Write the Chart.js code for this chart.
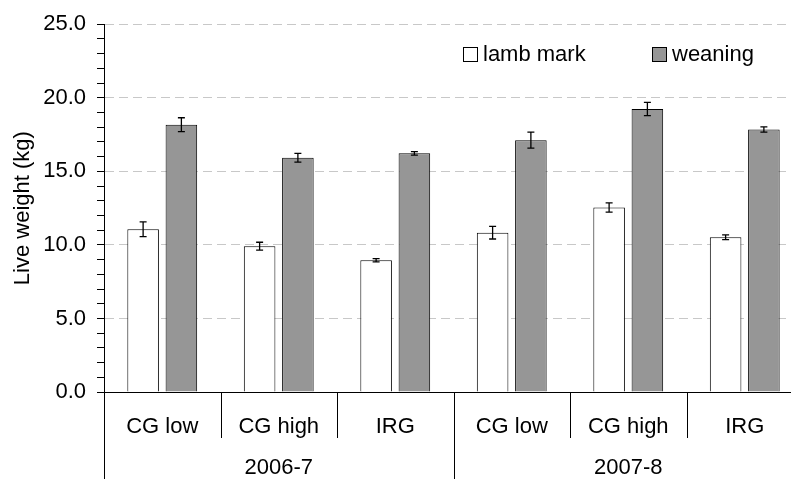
<!DOCTYPE html>
<html>
<head>
<meta charset="utf-8">
<script src="https://cdn.jsdelivr.net/npm/chart.js@4/dist/chart.umd.min.js"></script>
<style>
  html, body { margin: 0; padding: 0; background: #fff; overflow: hidden; }
  #wrap { width: 810px; height: 479px; }
</style>
</head>
<body>
<div id="wrap"><canvas id="chart" width="810" height="479"></canvas></div>
<script>
// categories and groups
var categories = ['CG low', 'CG high', 'IRG', 'CG low', 'CG high', 'IRG'];
var groups = ['2006-7', '2007-8'];
var groupSize = [3, 3];

// live weight (kg) and error bars
var lambMark = [11.06, 9.91, 8.96, 10.83, 12.54, 10.52];
var lambMarkErr = [0.50, 0.27, 0.11, 0.43, 0.32, 0.16];
var weaning = [18.17, 15.92, 16.22, 17.12, 19.24, 17.84];
var weaningErr = [0.47, 0.30, 0.12, 0.54, 0.45, 0.18];

var yTicks = [0, 5, 10, 15, 20, 25];

Chart.defaults.font.family = "'Liberation Sans', Arial, sans-serif";
Chart.defaults.color = '#000';

// error bars on each bar, using the y scale
var errorBars = {
    id: 'errorBars',
    afterDatasetsDraw: function(chart) {
        var ctx = chart.ctx;
        var y = chart.scales.y;
        ctx.save();
        ctx.strokeStyle = '#000';
        ctx.lineWidth = 1.3;
        chart.data.datasets.forEach(function(ds, di) {
            var meta = chart.getDatasetMeta(di);
            meta.data.forEach(function(bar, i) {
                var v = ds.data[i], e = ds.errors[i];
                var top = y.getPixelForValue(v + e);
                var bot = y.getPixelForValue(v - e);
                ctx.beginPath();
                ctx.moveTo(bar.x, top); ctx.lineTo(bar.x, bot);
                ctx.moveTo(bar.x - 3.5, top); ctx.lineTo(bar.x + 3.5, top);
                ctx.moveTo(bar.x - 3.5, bot); ctx.lineTo(bar.x + 3.5, bot);
                ctx.stroke();
            });
        });
        ctx.restore();
    }
};

// two-level category axis: separators and group labels
var groupAxis = {
    id: 'groupAxis',
    afterDraw: function(chart) {
        var ctx = chart.ctx;
        var x = chart.scales.x;
        var half = (x.getPixelForValue(1) - x.getPixelForValue(0)) / 2;
        var base = x.top;
        ctx.save();
        ctx.strokeStyle = '#000';
        ctx.lineWidth = 1;
        var bounds = [0];
        var n = 0;
        groupSize.forEach(function(s) { n += s; bounds.push(n); });
        for (var i = 0; i <= categories.length; i++) {
            var px = Math.round(x.getPixelForValue(i) - half) + 0.5;
            var long = bounds.indexOf(i) >= 0;
            ctx.beginPath();
            ctx.moveTo(px, base);
            ctx.lineTo(px, long ? chart.height : base + 46);
            ctx.stroke();
        }
        ctx.font = "22px 'Liberation Sans', Arial, sans-serif";
        ctx.fillStyle = '#000';
        ctx.textAlign = 'center';
        ctx.textBaseline = 'middle';
        var start = 0;
        groups.forEach(function(g, gi) {
            var a = x.getPixelForValue(start) - half;
            var b = x.getPixelForValue(start + groupSize[gi] - 1) + half;
            ctx.fillText(g, (a + b) / 2, base + 76);
            start += groupSize[gi];
        });
        ctx.restore();
    }
};

// legend drawn inside the plot
var insideLegend = {
    id: 'insideLegend',
    afterDraw: function(chart) {
        var ctx = chart.ctx;
        var items = [
            { x: 463, ds: chart.data.datasets[0] },
            { x: 652, ds: chart.data.datasets[1] }
        ];
        ctx.save();
        ctx.font = "22px 'Liberation Sans', Arial, sans-serif";
        ctx.textBaseline = 'middle';
        ctx.textAlign = 'left';
        items.forEach(function(it) {
            ctx.fillStyle = it.ds.backgroundColor;
            ctx.fillRect(it.x, 47, 15, 15);
            ctx.strokeStyle = '#000';
            ctx.lineWidth = 1;
            ctx.strokeRect(it.x + 0.5, 47.5, 14, 14);
            ctx.fillStyle = '#000';
            ctx.fillText(it.ds.label, it.x + 20, 55);
        });
        ctx.restore();
    }
};

new Chart(document.getElementById('chart'), {
    type: 'bar',
    data: {
        labels: categories,
        datasets: [{
            label: 'lamb mark',
            data: lambMark,
            errors: lambMarkErr,
            backgroundColor: '#ffffff',
            borderColor: '#000',
            borderWidth: 1,
            categoryPercentage: 0.657,
            barPercentage: 0.825
        }, {
            label: 'weaning',
            data: weaning,
            errors: weaningErr,
            backgroundColor: '#969696',
            borderColor: '#000',
            borderWidth: 1,
            categoryPercentage: 0.657,
            barPercentage: 0.825
        }]
    },
    options: {
        responsive: false,
        animation: false,
        layout: { padding: { left: 0, top: 21, right: 7, bottom: 0 } },
        plugins: {
            legend: { display: false },
            tooltip: { enabled: false }
        },
        scales: {
            x: {
                grid: { display: false },
                border: { display: true, color: '#000', width: 1 },
                ticks: { font: { size: 22 }, color: '#000', padding: 14, maxRotation: 0 },
                afterFit: function(s) { s.height = 87; }
            },
            y: {
                min: 0,
                max: 25,
                afterBuildTicks: function(s) {
                    var t = [];
                    for (var v = 0; v <= 25; v++) t.push({ value: v });
                    s.ticks = t;
                },
                grid: {
                    color: function(c) {
                        var v = c.tick ? c.tick.value : 0;
                        return (v !== 0 && yTicks.indexOf(v) >= 0) ? '#c8c8c8' : 'rgba(0,0,0,0)';
                    },
                    tickColor: '#000',
                    tickBorderDash: [],
                    tickLength: 7,
                    lineWidth: 1
                },
                border: { display: true, color: '#000', width: 1, dash: [9, 5] },
                ticks: {
                    autoSkip: false,
                    font: { size: 22 },
                    color: '#000',
                    padding: 11,
                    callback: function(v) { return yTicks.indexOf(v) >= 0 ? v.toFixed(1) : ''; }
                },
                title: {
                    display: true,
                    text: 'Live weight (kg)',
                    font: { size: 22 },
                    color: '#000',
                    padding: { top: 10, bottom: 0 }
                },
                afterFit: function(s) { s.width = 104; }
            }
        }
    },
    plugins: [errorBars, groupAxis, insideLegend]
});
</script>
</body>
</html>
